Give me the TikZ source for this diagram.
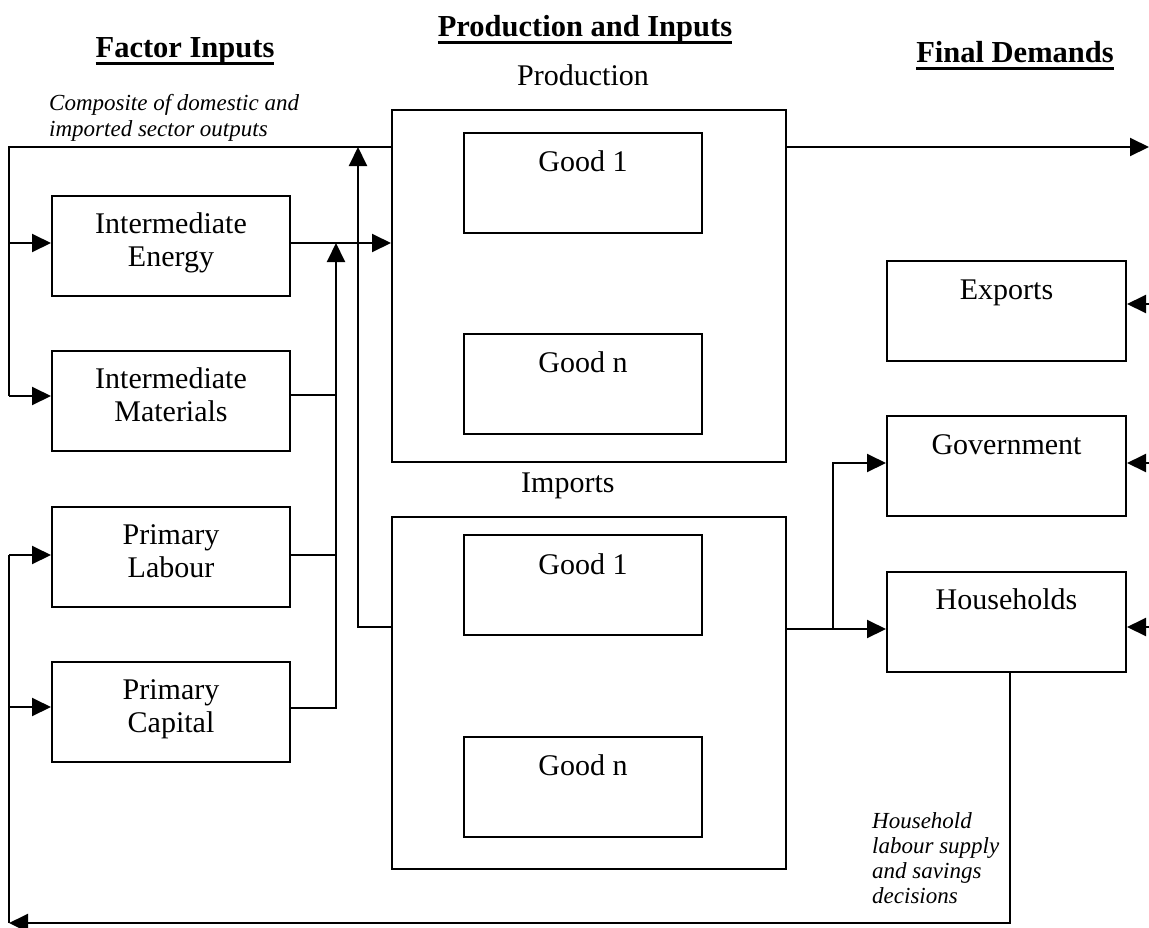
\documentclass[tikz,border=0pt]{standalone}
\usepackage{fontspec}
\setmainfont{Liberation Serif}
\usetikzlibrary{arrows.meta}
\newcommand{\ulword}[1]{\setbox0\hbox{#1}\rlap{\rule[-7.5pt]{\wd0}{3pt}}\box0}
\begin{document}
\begin{tikzpicture}[x=1pt,y=-1pt,
  box/.style={draw,line width=2pt,inner sep=0pt,minimum width=238pt,minimum height=100pt},
  bigbox/.style={draw,line width=2pt,inner sep=0pt,minimum width=394pt,minimum height=352pt},
  txt/.style={anchor=base,inner sep=0pt,font=\fontsize{30}{34}\selectfont},
  ttl/.style={anchor=base,inner sep=0pt,font=\fontsize{30.5}{34}\selectfont\bfseries},
  ital/.style={anchor=base west,inner sep=0pt,font=\fontsize{23}{26}\selectfont\itshape},
  conn/.style={line width=2pt},
  arr/.style={line width=2pt,-{Triangle[length=19pt,width=18pt]}}]
\useasboundingbox (0,0) rectangle (1149,927);
% titles
\node[ttl] (tFactor) at (185,57) {\ulword{Factor Inputs}};
\node[ttl] (tProd) at (585,36) {\ulword{Production and Inputs}};
\node[ttl] (tFinal) at (1015,62) {\ulword{Final Demands}};
% left boxes
\node[box] (energy) at (171,246) {};
\node[box] (materials) at (171,401) {};
\node[box] (labour) at (171,557) {};
\node[box] (capital) at (171,712) {};
\node[txt] (energyA) at (171,233) {Intermediate};
\node[txt] (energyB) at (171,266) {Energy};
\node[txt] (materialsA) at (171,388) {Intermediate};
\node[txt] (materialsB) at (171,421) {Materials};
\node[txt] (labourA) at (171,544) {Primary};
\node[txt] (labourB) at (171,577) {Labour};
\node[txt] (capitalA) at (171,699) {Primary};
\node[txt] (capitalB) at (171,732) {Capital};
% production and imports
\node[bigbox] (prod) at (589,286) {};
\node[bigbox] (imports) at (589,693) {};
\node[txt] (prodL) at (583,85) {Production};
\node[txt,anchor=base west] (impL) at (521,492) {Imports};
\node[box] (pg1) at (583,182.5) {};
\node[box] (pgn) at (583,383.5) {};
\node[box] (ig1) at (583,585) {};
\node[box] (ign) at (583,786.5) {};
\node[txt] (pg1t) at (583,171) {Good 1};
\node[txt] (pgnt) at (583,372) {Good n};
\node[txt] (ig1t) at (583,574) {Good 1};
\node[txt] (ignt) at (583,775) {Good n};
% right boxes
\node[box,minimum width=239pt] (exports) at (1006.5,311) {};
\node[box,minimum width=239pt] (gov) at (1006.5,466) {};
\node[box,minimum width=239pt] (hh) at (1006.5,622) {};
\node[txt] (exportsT) at (1006.5,299) {Exports};
\node[txt] (govT) at (1006.5,454) {Government};
\node[txt] (hhT) at (1006.5,609) {Households};
% italic labels
\node[ital] (comp1) at (49,110) {Composite of domestic and};
\node[ital] (comp2) at (49,136) {imported sector outputs};
\node[ital] (hl1) at (872,828) {Household};
\node[ital] (hl2) at (872,853) {labour supply};
\node[ital] (hl3) at (872,878) {and savings};
\node[ital] (hl4) at (872,903) {decisions};
% coordinates
\coordinate (tl) at (9,147);
\coordinate (eIn) at (9,243);
\coordinate (mIn) at (9,396);
\coordinate (lIn) at (9,555);
\coordinate (cIn) at (9,707);
\coordinate (bl) at (9,923);
\coordinate (vTop) at (336,243);
\coordinate (vM) at (336,395);
\coordinate (vL) at (336,555);
\coordinate (vC) at (336,708);
\coordinate (v2) at (358,627);
\coordinate (outR) at (1149,147);
\coordinate (br) at (833,629);
\coordinate (gy) at (833,463);
\coordinate (r1) at (1149,304);
\coordinate (r2) at (1149,463);
\coordinate (r3) at (1149,627);
\coordinate (hb) at (1010,923);
% connectors
\draw[conn] (tl -| prod.west) -- (tl) -- (mIn);
\draw[arr] (eIn) -- (eIn -| energy.west);
\draw[arr] (mIn) -- (mIn -| materials.west);
\draw[arr] (vTop -| energy.east) -- (vTop -| prod.west);
\draw[arr] (vC -| capital.east) -- (vC) -- (vTop);
\draw[conn] (vM -| materials.east) -- (vM);
\draw[conn] (vL -| labour.east) -- (vL);
\draw[arr] (v2 -| imports.west) -- (v2) -- (v2 |- tl);
\draw[arr] (outR -| prod.east) -- (outR);
\draw[arr] (br -| imports.east) -- (br -| hh.west);
\draw[arr] (br) -- (gy) -- (gy -| gov.west);
\draw[arr] (r1) -- (r1 -| exports.east);
\draw[arr] (r2) -- (r2 -| gov.east);
\draw[arr] (r3) -- (r3 -| hh.east);
\draw[arr] (hb |- hh.south) -- (hb) -- (bl);
\draw[conn] (bl) -- (lIn);
\draw[arr] (lIn) -- (lIn -| labour.west);
\draw[arr] (cIn) -- (cIn -| capital.west);
\end{tikzpicture}
\end{document}
